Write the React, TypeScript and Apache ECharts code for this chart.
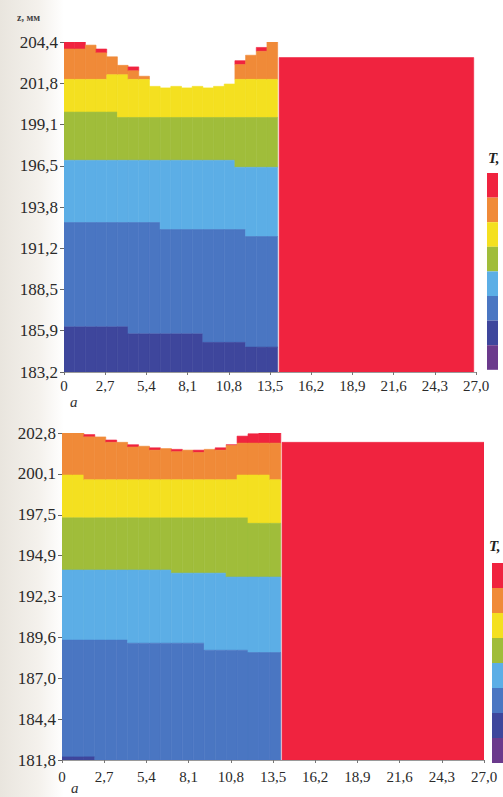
import React, { useEffect, useRef } from "react";
import * as echarts from "echarts";

// ---- axes ----
const xTicks = [0, 2.7, 5.4, 8.1, 10.8, 13.5, 16.2, 18.9, 21.6, 24.3, 27.0];
const xTickLabels = ["0", "2,7", "5,4", "8,1", "10,8", "13,5", "16,2", "18,9", "21,6", "24,3", "27,0"];
const yTicksTop = [183.2, 185.85, 188.5, 191.15, 193.8, 196.45, 199.1, 201.75, 204.4];
const yLabelsTop = ["183,2", "185,9", "188,5", "191,2", "193,8", "196,5", "199,1", "201,8", "204,4"];
const yTicksBottom = [181.8, 184.425, 187.05, 189.675, 192.3, 194.925, 197.55, 200.175, 202.8];
const yLabelsBottom = ["181,8", "184,4", "187,0", "189,6", "192,3", "194,9", "197,5", "200,1", "202,8"];

// ---- temperature classes (0 = coldest, 7 = hottest) ----
const classColors = ["#6b3a8c", "#3e469c", "#4a76c2", "#5caee6", "#a0bd3a", "#f4e020", "#f08a38", "#f0233f"];

// ---- column edges of the left (cellular) region ----
const columnEdges = [0, 0.7, 1.4, 2.1, 2.8, 3.5, 4.2, 4.9, 5.6, 6.3, 7.0, 7.7, 8.4, 9.1, 9.8, 10.5, 11.2, 11.9, 12.6, 13.3, 14.0];

// ---- top panel: band boundaries per column (z, mm) ----
const topSurface1 = [204.4, 204.4, 204.2, 203.95, 203.45, 202.9, 202.8, 202.2, 201.55, 201.45, 201.55, 201.45, 201.55, 201.45, 201.55, 201.7, 203.2, 203.55, 204.05, 204.4];
const redBottom1 = [203.95, 203.95, 204.2, 203.7, 203.45, 202.9, 202.55, 202.2, 201.55, 201.45, 201.55, 201.45, 201.55, 201.45, 201.55, 201.7, 202.95, 203.55, 203.8, 204.4];
const orangeBottom1 = [202.0, 202.0, 202.0, 202.0, 202.3, 202.3, 202.0, 202.0, 202.0, 202.0, 202.0, 202.0, 202.0, 202.0, 202.0, 202.0, 202.0, 202.0, 202.0, 202.0];
const yellowBottom1 = [199.9, 199.9, 199.9, 199.9, 199.9, 199.55, 199.55, 199.55, 199.55, 199.55, 199.55, 199.55, 199.55, 199.55, 199.55, 199.55, 199.55, 199.55, 199.55, 199.55];
const greenBottom1 = [196.8, 196.8, 196.8, 196.8, 196.8, 196.8, 196.8, 196.8, 196.8, 196.8, 196.8, 196.8, 196.8, 196.8, 196.8, 196.8, 196.35, 196.35, 196.35, 196.35];
const lightBlueBottom1 = [192.8, 192.8, 192.8, 192.8, 192.8, 192.8, 192.8, 192.8, 192.8, 192.35, 192.35, 192.35, 192.35, 192.35, 192.35, 192.35, 192.35, 191.9, 191.9, 191.9];
const blueBottom1 = [186.1, 186.1, 186.1, 186.1, 186.1, 186.1, 185.65, 185.65, 185.65, 185.65, 185.65, 185.65, 185.65, 185.1, 185.1, 185.1, 185.1, 184.8, 184.8, 184.8];
const darkBlueBottom1 = [183.2, 183.2, 183.2, 183.2, 183.2, 183.2, 183.2, 183.2, 183.2, 183.2, 183.2, 183.2, 183.2, 183.2, 183.2, 183.2, 183.2, 183.2, 183.2, 183.2];
const hotBlock1 = [14.1, 26.85, 183.2, 203.4];

// ---- bottom panel ----
const topSurface2 = [202.8, 202.8, 202.7, 202.55, 202.35, 202.2, 202.05, 201.95, 201.85, 201.8, 201.75, 201.7, 201.7, 201.75, 201.85, 202.05, 202.6, 202.75, 202.8, 202.8];
const redBottom2 = [202.8, 202.8, 202.55, 202.55, 202.2, 202.2, 201.9, 201.95, 201.7, 201.8, 201.6, 201.7, 201.55, 201.75, 201.7, 202.0, 202.15, 202.15, 202.15, 202.15];
const orangeBottom2 = [200.1, 200.1, 199.8, 199.8, 199.8, 199.8, 199.8, 199.8, 199.8, 199.8, 199.8, 199.8, 199.8, 199.8, 199.8, 199.8, 200.1, 200.1, 200.1, 199.8];
const yellowBottom2 = [197.35, 197.35, 197.35, 197.35, 197.35, 197.35, 197.35, 197.35, 197.35, 197.35, 197.35, 197.35, 197.35, 197.35, 197.35, 197.35, 197.35, 197.0, 197.0, 197.0];
const greenBottom2 = [194.0, 194.0, 194.0, 194.0, 194.0, 194.0, 194.0, 194.0, 194.0, 194.0, 193.8, 193.8, 193.8, 193.8, 193.8, 193.55, 193.55, 193.55, 193.55, 193.55];
const lightBlueBottom2 = [189.5, 189.5, 189.5, 189.5, 189.5, 189.5, 189.3, 189.3, 189.3, 189.3, 189.3, 189.3, 189.3, 188.85, 188.85, 188.85, 188.85, 188.7, 188.7, 188.7];
const blueBottom2 = [182.0, 182.0, 182.0, 181.8, 181.8, 181.8, 181.8, 181.8, 181.8, 181.8, 181.8, 181.8, 181.8, 181.8, 181.8, 181.8, 181.8, 181.8, 181.8, 181.8];
const darkBlueBottom2 = [181.8, 181.8, 181.8, 181.8, 181.8, 181.8, 181.8, 181.8, 181.8, 181.8, 181.8, 181.8, 181.8, 181.8, 181.8, 181.8, 181.8, 181.8, 181.8, 181.8];
const hotBlock2 = [14.08, 27.0, 181.8, 202.2];

function buildCells(top: number[], bottoms: number[][], block: number[]) {
  const cells: number[][] = [];
  for (let i = 0; i < top.length; i++) {
    const x0 = columnEdges[i];
    const x1 = columnEdges[i + 1];
    let hi = top[i];
    for (let k = 0; k < bottoms.length; k++) {
      const lo = Math.min(bottoms[k][i], hi);
      if (hi - lo > 1e-6) cells.push([x0, x1, lo, hi, 7 - k]);
      hi = lo;
    }
  }
  cells.push([block[0], block[1], block[2], block[3], 7]);
  return cells;
}

const cells1 = buildCells(topSurface1, [redBottom1, orangeBottom1, yellowBottom1, greenBottom1, lightBlueBottom1, blueBottom1, darkBlueBottom1], hotBlock1);
const cells2 = buildCells(topSurface2, [redBottom2, orangeBottom2, yellowBottom2, greenBottom2, lightBlueBottom2, blueBottom2, darkBlueBottom2], hotBlock2);

function nearestLabel(ticks: number[], labels: string[], v: number) {
  let best = 0;
  for (let i = 1; i < ticks.length; i++) if (Math.abs(ticks[i] - v) < Math.abs(ticks[best] - v)) best = i;
  return labels[best];
}

const serif = "'Liberation Serif', 'DejaVu Serif', serif";

function renderCell(params: any, api: any) {
  const p0 = api.coord([api.value(0), api.value(3)]);
  const p1 = api.coord([api.value(1), api.value(2)]);
  const color = api.visual("color");
  return {
    type: "rect",
    shape: { x: p0[0], y: p0[1], width: p1[0] - p0[0], height: p1[1] - p0[1] },
    style: { fill: color, stroke: color, lineWidth: 0.6 },
  };
}

export default function App() {
  const ref = useRef<HTMLDivElement>(null);
  useEffect(() => {
    if (!ref.current) return;
    const chart = echarts.init(ref.current, null, { renderer: "svg" });
    const xAxisBase = (gridIndex: number, margin: number) => ({
      type: "value",
      gridIndex,
      min: 0,
      max: 27,
      axisLine: { show: true, lineStyle: { color: "#9a9a9a", width: 1 } },
      axisTick: { show: true, customValues: xTicks, length: 3, lineStyle: { color: "#777" } },
      splitLine: { show: false },
      axisLabel: {
        customValues: xTicks,
        margin,
        fontFamily: serif,
        fontSize: 15,
        color: "#2a2a2a",
        hideOverlap: false,
        formatter: (v: number) => nearestLabel(xTicks, xTickLabels, v),
      },
    });
    const yAxisBase = (gridIndex: number, min: number, max: number, ticks: number[], labels: string[]) => ({
      type: "value",
      gridIndex,
      min,
      max,
      axisLine: { show: false },
      axisTick: { show: true, customValues: ticks, length: 4, lineStyle: { color: "#666" } },
      splitLine: { show: false },
      axisLabel: {
        customValues: ticks,
        margin: 6,
        fontFamily: serif,
        fontSize: 17,
        color: "#2a2a2a",
        hideOverlap: false,
        formatter: (v: number) => nearestLabel(ticks, labels, v),
      },
    });
    const pieces = classColors.map((c, i) => ({ value: i, color: c }));
    chart.setOption({
      animation: false,
      backgroundColor: "#ffffff",
      grid: [
        { left: 64, top: 42, width: 412, height: 330 },
        { left: 62, top: 433, width: 422, height: 327 },
      ],
      xAxis: [xAxisBase(0, 6), xAxisBase(1, 9)],
      yAxis: [
        yAxisBase(0, 183.2, 204.4, yTicksTop, yLabelsTop),
        yAxisBase(1, 181.8, 202.8, yTicksBottom, yLabelsBottom),
      ],
      visualMap: [
        {
          type: "piecewise",
          seriesIndex: 0,
          dimension: 4,
          pieces,
          orient: "vertical",
          left: 487,
          top: 173,
          itemWidth: 11,
          itemHeight: 24.6,
          itemGap: 0,
          padding: 0,
          showLabel: false,
          itemSymbol: "rect",
          selectedMode: false,
          hoverLink: false,
        },
        {
          type: "piecewise",
          seriesIndex: 1,
          dimension: 4,
          pieces,
          orient: "vertical",
          left: 492,
          top: 563,
          itemWidth: 11,
          itemHeight: 25,
          itemGap: 0,
          padding: 0,
          showLabel: false,
          itemSymbol: "rect",
          selectedMode: false,
          hoverLink: false,
        },
      ],
      series: [
        {
          type: "custom",
          xAxisIndex: 0,
          yAxisIndex: 0,
          renderItem: renderCell,
          encode: { x: [0, 1], y: [2, 3] },
          data: cells1,
          clip: true,
          silent: true,
        },
        {
          type: "custom",
          xAxisIndex: 1,
          yAxisIndex: 1,
          renderItem: renderCell,
          encode: { x: [0, 1], y: [2, 3] },
          data: cells2,
          clip: true,
          silent: true,
        },
      ],
      graphic: [
        {
          type: "rect",
          left: 0,
          top: 0,
          z: -10,
          silent: true,
          shape: { width: 64, height: 797 },
          style: {
            fill: new echarts.graphic.LinearGradient(0, 0, 1, 0, [
              { offset: 0, color: "#e9e5de" },
              { offset: 0.6, color: "#f4f1ec" },
              { offset: 1, color: "#ffffff" },
            ]),
          },
        },
        { type: "text", left: 17, top: 12, style: { text: "z, мм", font: "bold 10px " + serif, fill: "#444" } },
        { type: "text", left: 70, top: 394, style: { text: "a", font: "italic 15px " + serif, fill: "#333" } },
        { type: "text", left: 71, top: 780, style: { text: "a", font: "italic 15px " + serif, fill: "#333" } },
        { type: "text", left: 488, top: 150, style: { text: "T,", font: "italic bold 15px " + serif, fill: "#222" } },
        { type: "text", left: 489, top: 538, style: { text: "T,", font: "italic bold 15px " + serif, fill: "#222" } },
      ],
    });
    return () => chart.dispose();
  }, []);
  return <div ref={ref} style={{ position: "fixed", left: 0, top: 0, width: 503, height: 797 }} />;
}
